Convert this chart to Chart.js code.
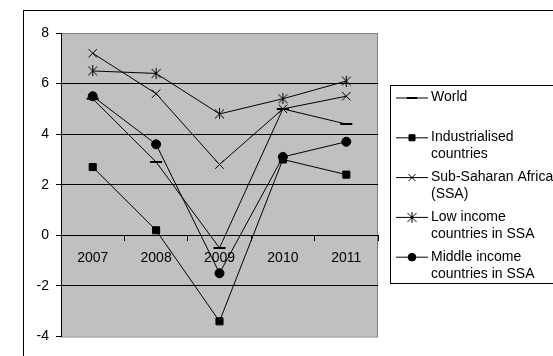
<!DOCTYPE html>
<html>
<head>
<meta charset="utf-8">
<script src="https://cdn.jsdelivr.net/npm/chart.js@4/dist/chart.umd.min.js"></script>
<style>
  html, body { margin: 0; padding: 0; background: #fff; }
  #wrap { width: 553px; height: 356px; }
</style>
</head>
<body>
<div id="wrap"><canvas id="growthChart" width="553" height="356"></canvas></div>
<script>
// values
const years = ['2007', '2008', '2009', '2010', '2011'];
const world = [5.4, 2.9, -0.5, 5.0, 4.4];
const industrialised = [2.7, 0.2, -3.4, 3.0, 2.4];
const subSaharan = [7.2, 5.6, 2.8, 5.0, 5.5];
const lowIncome = [6.5, 6.4, 4.8, 5.4, 6.1];
const middleIncome = [5.5, 3.6, -1.5, 3.1, 3.7];
const legendLabels = [
    ['World'],
    ['Industrialised', 'countries'],
    ['Sub-Saharan Africa', '(SSA)'],
    ['Low income', 'countries in SSA'],
    ['Middle income', 'countries in SSA']
];

const FONT = "'Liberation Sans', Arial, sans-serif";

// asterisk marker (x with a vertical stroke)
function makeAsterisk(size) {
    const c = document.createElement('canvas');
    c.width = size; c.height = size;
    const g = c.getContext('2d');
    g.strokeStyle = '#000';
    g.lineWidth = 1;
    g.beginPath();
    g.moveTo(1, 1); g.lineTo(size - 1, size - 1);
    g.moveTo(size - 1, 1); g.lineTo(1, size - 1);
    g.moveTo(size / 2, 0); g.lineTo(size / 2, size);
    g.stroke();
    return c;
}
const asterisk = makeAsterisk(11);

function series(label, values, style, radius, width) {
    return {
        label: label,
        data: values,
        borderColor: '#000',
        backgroundColor: '#000',
        borderWidth: 1,
        pointStyle: style,
        pointRadius: radius,
        pointHoverRadius: radius,
        pointBorderWidth: width,
        pointBackgroundColor: '#000',
        pointBorderColor: '#000',
        tension: 0,
        fill: false
    };
}

// grey plot area and outer frame
const backdrop = {
    id: 'backdrop',
    beforeDraw(chart) {
        const ctx = chart.ctx;
        const a = chart.chartArea;
        ctx.save();
        ctx.fillStyle = '#fff';
        ctx.fillRect(0, 0, chart.width, chart.height);
        ctx.strokeStyle = '#000';
        ctx.lineWidth = 1;
        ctx.strokeRect(23.5, 10.5, chart.width, chart.height);
        ctx.fillStyle = '#c0c0c0';
        ctx.fillRect(a.left, a.top, a.right - a.left, a.bottom - a.top);
        ctx.strokeStyle = '#808080';
        ctx.strokeRect(a.left + 0.5, a.top + 0.5, a.right - a.left - 1, a.bottom - a.top);
        ctx.restore();
    }
};

// legend box with two-line labels
const sideLegend = {
    id: 'sideLegend',
    afterDraw(chart) {
        const ctx = chart.ctx;
        ctx.save();
        ctx.strokeStyle = '#000';
        ctx.lineWidth = 1;
        ctx.strokeRect(390.5, 85.5, 200, 198);
        ctx.font = '14px ' + FONT;
        ctx.fillStyle = '#000';
        ctx.textBaseline = 'middle';
        chart.data.datasets.forEach(function(ds, i) {
            const y = 97.5 + i * 39.8;
            ctx.beginPath();
            ctx.moveTo(396, y + 0.5);
            ctx.lineTo(428, y + 0.5);
            ctx.stroke();
            ctx.fillStyle = '#000';
            ctx.strokeStyle = '#000';
            ctx.lineWidth = ds.pointBorderWidth;
            Chart.helpers.drawPoint(ctx, {
                pointStyle: ds.pointStyle,
                radius: ds.pointRadius * 0.85,
                rotation: 0,
                borderWidth: ds.pointBorderWidth
            }, 412, y + 0.5);
            ctx.lineWidth = 1;
            legendLabels[i].forEach(function(line, j) {
                ctx.fillText(line, 431, y + j * 17);
            });
        });
        ctx.restore();
    }
};

const ctx = document.getElementById('growthChart').getContext('2d');
new Chart(ctx, {
    type: 'line',
    data: {
        labels: years,
        datasets: [
            series('World', world, 'line', 6, 2),
            series('Industrialised countries', industrialised, 'rect', 5, 1),
            series('Sub-Saharan Africa (SSA)', subSaharan, 'crossRot', 6, 1),
            series('Low income countries in SSA', lowIncome, asterisk, 5, 1),
            series('Middle income countries in SSA', middleIncome, 'circle', 4.5, 1)
        ]
    },
    options: {
        responsive: false,
        animation: false,
        events: [],
        layout: { padding: { top: 33, right: 175, bottom: 19.5, left: 0 } },
        plugins: {
            legend: { display: false },
            tooltip: { enabled: false }
        },
        scales: {
            x: {
                type: 'category',
                position: { y: 0 },
                offset: true,
                grid: {
                    offset: true,
                    drawOnChartArea: false,
                    drawTicks: true,
                    tickLength: 5,
                    color: '#000'
                },
                border: { color: '#000' },
                ticks: {
                    color: '#000',
                    font: { family: FONT, size: 14 },
                    padding: 9,
                    maxRotation: 0
                }
            },
            y: {
                min: -4,
                max: 8,
                afterFit(scale) { scale.width = 61; },
                ticks: {
                    stepSize: 2,
                    color: '#000',
                    font: { family: FONT, size: 14 },
                    padding: 7
                },
                grid: {
                    color: function(c) {
                        const v = c.tick && c.tick.value;
                        return (v === 8 || v === -4) ? 'rgba(0,0,0,0)' : '#000';
                    },
                    tickColor: '#000',
                    tickLength: 5
                },
                border: { color: '#000' }
            }
        }
    },
    plugins: [backdrop, sideLegend]
});
</script>
</body>
</html>
